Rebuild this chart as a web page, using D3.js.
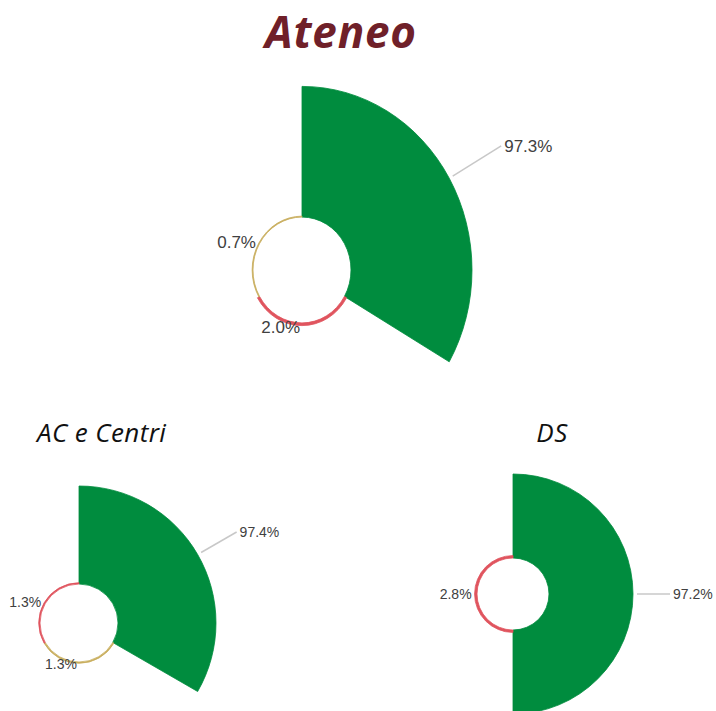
<!DOCTYPE html>
<html>
<head>
<meta charset="utf-8">
<script src="https://cdn.jsdelivr.net/npm/d3@7/dist/d3.min.js"></script>
<style>
  html, body { margin: 0; padding: 0; background: #fff; }
  svg { display: block; }
</style>
</head>
<body>
<svg id="chart" width="716" height="711"></svg>
<script>
// ---- data ----
const chartTitles = ["Ateneo", "AC e Centri", "DS"];
const ateneoCategories = ["Verde", "Rosso", "Giallo"];
const ateneoValues = [97.3, 2.0, 0.7];
const acCategories = ["Verde", "Giallo", "Rosso"];
const acValues = [97.4, 1.3, 1.3];
const dsCategories = ["Verde", "Rosso"];
const dsValues = [97.2, 2.8];

const colorMap = { Verde: "#008c3e", Rosso: "#e0545e", Giallo: "#c9ae5e" };

// ---- layout ----
const layouts = [
  { cats: ateneoCategories, vals: ateneoValues, cx: 302, cy: 270, inner: 49, outer: 170, sy: 1.08, line: 60, font: 17,
    title: { x: 341, y: 48, size: 44, weight: 700, color: "#6f2029", anchor: "middle", ls: 0.8 } },
  { cats: acCategories, vals: acValues, cx: 79, cy: 623, inner: 39, outer: 137, sy: 1.0, line: 45, font: 14,
    title: { x: 37, y: 442, size: 26, weight: 400, color: "#111", anchor: "start", ls: 0.4 } },
  { cats: dsCategories, vals: dsValues, cx: 513, cy: 594, inner: 36, outer: 120, sy: 1.0, line: 37, font: 14,
    title: { x: 552, y: 442, size: 26, weight: 400, color: "#111", anchor: "middle", ls: 0.4 } }
];

const svg = d3.select("#chart");

layouts.forEach((L, i) => {
  const data = L.cats.map((c, j) => ({ cat: c, value: L.vals[j] }));
  const pie = d3.pie().value(() => 1).sort(null);
  const arcs = pie(data);
  const r = d3.scaleLinear().domain([0, d3.max(L.vals)]).range([L.inner, L.outer]);
  const arc = d3.arc().innerRadius(L.inner).outerRadius(d => r(d.data.value));

  // title
  svg.append("text")
    .attr("x", L.title.x).attr("y", L.title.y)
    .attr("text-anchor", L.title.anchor)
    .attr("font-family", "'Open Sans', sans-serif")
    .attr("font-style", "italic")
    .attr("font-weight", L.title.weight)
    .attr("font-size", L.title.size)
    .attr("letter-spacing", L.title.ls)
    .attr("fill", L.title.color)
    .text(chartTitles[i]);

  const g = svg.append("g")
    .attr("transform", `translate(${L.cx},${L.cy}) scale(1,${L.sy})`);
  g.selectAll("path").data(arcs).join("path")
    .attr("d", arc)
    .attr("fill", d => colorMap[d.data.cat])
    .attr("stroke", d => colorMap[d.data.cat])
    .attr("stroke-width", 0.8);

  const lg = svg.append("g").attr("transform", `translate(${L.cx},${L.cy})`);
  const pt = (a, rad) => [Math.sin(a) * rad, -Math.cos(a) * rad * L.sy];
  const maxV = d3.max(L.vals);

  arcs.forEach(d => {
    const a = (d.startAngle + d.endAngle) / 2;
    const txt = d.data.value.toFixed(1) + "%";
    if (d.data.value === maxV) {
      const ro = r(d.data.value);
      const p0 = pt(a, ro + 4), p1 = pt(a, ro + L.line);
      lg.append("line")
        .attr("x1", p0[0]).attr("y1", p0[1]).attr("x2", p1[0]).attr("y2", p1[1])
        .attr("stroke", "#c8c8c8").attr("stroke-width", 1.5);
      lg.append("text")
        .attr("x", p1[0] + 3).attr("y", p1[1])
        .attr("dy", "0.35em")
        .attr("text-anchor", "start")
        .attr("font-family", "Arial, 'Liberation Sans', sans-serif")
        .attr("font-size", L.font)
        .attr("fill", "#404040")
        .text(txt);
    } else {
      const p = pt(a, r(d.data.value) + 1);
      lg.append("text")
        .attr("x", p[0] - 2).attr("y", p[1])
        .attr("dy", "0.35em")
        .attr("text-anchor", "end")
        .attr("font-family", "Arial, 'Liberation Sans', sans-serif")
        .attr("font-size", L.font)
        .attr("fill", "#404040")
        .text(txt);
    }
  });
});
</script>
</body>
</html>
